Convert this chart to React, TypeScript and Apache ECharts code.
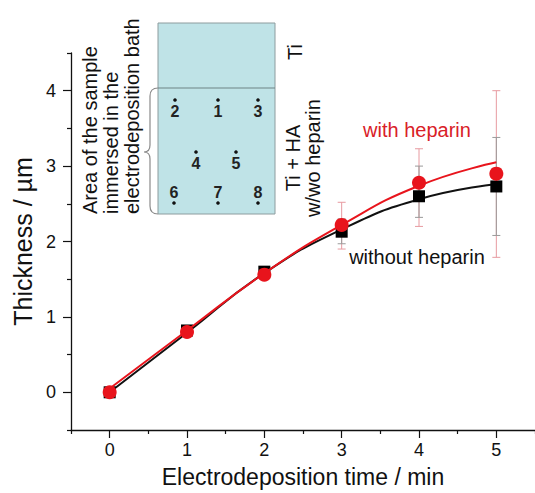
import React, { useEffect, useRef } from "react";
import * as echarts from "echarts";

const times = [0, 1, 2, 3, 4, 5];
const withoutHeparin = [0, 0.82, 1.6, 2.13, 2.6, 2.73];
const withHeparin = [0, 0.8, 1.56, 2.22, 2.78, 2.9];
const fitWithout = [0, 0.79, 1.58, 2.16, 2.56, 2.76];
const fitWith = [0.05, 0.82, 1.58, 2.22, 2.74, 3.05];
const errWithoutLow = [0, 0.8, 1.56, 1.97, 2.32, 2.08];
const errWithoutHigh = [0, 0.84, 1.64, 2.3, 3.0, 3.38];
const errWithLow = [0, 0.78, 1.52, 1.9, 2.2, 1.79];
const errWithHigh = [0, 0.82, 1.6, 2.52, 3.23, 4.0];
const xTicks = [0, 1, 2, 3, 4, 5];
const xMinor = [-0.5, 0.5, 1.5, 2.5, 3.5, 4.5, 5.5];
const yTicks = [0, 1, 2, 3, 4];
const yMinor = [-0.5, 0.5, 1.5, 2.5, 3.5, 4.5];

const FONT = "Liberation Sans, Arial, sans-serif";
const RED = "#e8141c";

const bracePath =
  "M158,88 Q150,88 150,96 L150,145 Q150,152 144,152 Q150,152 150,159 L150,206 Q150,214 158,214";
echarts.graphic.registerShape("brace", echarts.graphic.extendPath(bracePath, {}));

function errSeries(low: number[], high: number[], color: string, z: number) {
  return {
    type: "custom",
    z,
    silent: true,
    data: times.map((t, i) => [t, low[i], high[i]]),
    encode: { x: 0, y: [1, 2] },
    renderItem: (params: any, api: any) => {
      const x = api.value(0);
      const lo = api.value(1);
      const hi = api.value(2);
      const p1 = api.coord([x, hi]);
      const p2 = api.coord([x, lo]);
      const w = 4;
      const st = { stroke: color, lineWidth: 1 };
      return {
        type: "group",
        children: [
          { type: "line", shape: { x1: p1[0], y1: p1[1], x2: p2[0], y2: p2[1] }, style: st },
          { type: "line", shape: { x1: p1[0] - w, y1: p1[1], x2: p1[0] + w, y2: p1[1] }, style: st },
          { type: "line", shape: { x1: p2[0] - w, y1: p2[1], x2: p2[0] + w, y2: p2[1] }, style: st },
        ],
      };
    },
  };
}

export default function App() {
  const ref = useRef<HTMLDivElement>(null);
  useEffect(() => {
    if (!ref.current) return;
    const chart = echarts.init(ref.current, undefined, { renderer: "svg" });
    const axisCommon = {
      type: "value",
      splitLine: { show: false },
    };
    const dots = [
      [175, 100], [218, 100], [258, 100], [196, 152], [236, 152], [174, 203], [218, 203], [258, 203],
    ];
    const nums = [
      ["2", 175, 111], ["1", 218, 111], ["3", 258, 111], ["4", 196, 163], ["5", 236, 163],
      ["6", 174, 192], ["7", 218, 192], ["8", 258, 192],
    ];
    chart.setOption({
      animation: false,
      backgroundColor: "#ffffff",
      grid: { left: 71, right: 0, top: 53, bottom: 62.5, containLabel: false },
      xAxis: [
        {
          ...axisCommon,
          min: -0.5,
          max: 5.5,
          position: "bottom",
          name: "Electrodeposition time / min",
          nameLocation: "middle",
          nameGap: 35,
          nameTextStyle: { fontFamily: FONT, fontSize: 23, color: "#111" },
          axisLine: { show: true, onZero: false, lineStyle: { color: "#111", width: 1.3 } },
          axisTick: { show: true, inside: false, length: 8, customValues: xTicks, lineStyle: { color: "#111", width: 1.2 } },
          axisLabel: { customValues: xTicks, fontFamily: FONT, fontSize: 18, color: "#111", margin: 11 },
        },
        {
          ...axisCommon,
          min: -0.5,
          max: 5.5,
          position: "bottom",
          offset: 0,
          axisLine: { show: false, onZero: false },
          axisTick: { show: true, inside: false, length: 4, customValues: xMinor, lineStyle: { color: "#111", width: 1.2 } },
          axisLabel: { show: false },
        },
      ],
      yAxis: [
        {
          ...axisCommon,
          min: -0.5,
          max: 4.5,
          position: "left",
          name: "Thickness / \u00b5m",
          nameLocation: "middle",
          nameGap: 32,
          nameTextStyle: { fontFamily: FONT, fontSize: 25, color: "#111" },
          axisLine: { show: true, onZero: false, lineStyle: { color: "#111", width: 1.3 } },
          axisTick: { show: true, inside: false, length: 8, customValues: yTicks, lineStyle: { color: "#111", width: 1.2 } },
          axisLabel: { customValues: yTicks, fontFamily: FONT, fontSize: 18, color: "#111", margin: 15 },
        },
        {
          ...axisCommon,
          min: -0.5,
          max: 4.5,
          position: "left",
          offset: 0,
          axisLine: { show: false, onZero: false },
          axisTick: { show: true, inside: false, length: 4, customValues: yMinor, lineStyle: { color: "#111", width: 1.2 } },
          axisLabel: { show: false },
        },
      ],
      series: [
        errSeries(errWithLow, errWithHigh, "#e79aa0", 1),
        errSeries(errWithoutLow, errWithoutHigh, "#9a9a9a", 2),
        {
          type: "line",
          name: "fit without",
          data: times.map((t, i) => [t, fitWithout[i]]),
          smooth: true,
          showSymbol: false,
          lineStyle: { color: "#111", width: 2 },
          z: 3,
        },
        {
          type: "scatter",
          name: "without heparin",
          data: times.map((t, i) => [t, withoutHeparin[i]]),
          symbol: "rect",
          symbolSize: 12,
          itemStyle: { color: "#000", opacity: 1 },
          z: 4,
        },
        {
          type: "line",
          name: "fit with",
          data: times.map((t, i) => [t, fitWith[i]]),
          smooth: true,
          showSymbol: false,
          lineStyle: { color: RED, width: 2 },
          z: 5,
        },
        {
          type: "scatter",
          name: "with heparin",
          data: times.map((t, i) => [t, withHeparin[i]]),
          symbol: "circle",
          symbolSize: 14,
          itemStyle: { color: RED, opacity: 1 },
          z: 6,
        },
      ],
      graphic: [
        {
          type: "rect",
          shape: { x: 158, y: 23, width: 117, height: 191 },
          style: { fill: "#bfe3e7", stroke: "#8d9c9e", lineWidth: 1 },
          z: 10,
        },
        {
          type: "line",
          shape: { x1: 158, y1: 88, x2: 275, y2: 88 },
          style: { stroke: "#6f8386", lineWidth: 1.2 },
          z: 11,
        },
        {
          type: "brace",
          x: 0,
          y: 0,
          shape: {},
          style: { fill: "none", stroke: "#8a8a8a", lineWidth: 1.2 },
          z: 11,
        },
        ...dots.map((d) => ({
          type: "circle",
          shape: { cx: d[0], cy: d[1], r: 1.8 },
          style: { fill: "#111" },
          z: 12,
        })),
        ...nums.map((n) => ({
          type: "text",
          x: n[1] as number,
          y: n[2] as number,
          style: {
            text: n[0] as string,
            fontFamily: FONT,
            fontSize: 16,
            fontWeight: "bold",
            fill: "#222",
            align: "center",
            verticalAlign: "middle",
          },
          z: 12,
        })),
        {
          type: "text",
          x: 111,
          y: 214,
          rotation: Math.PI / 2,
          style: {
            text: "Area of the sample\nimmersed in the\nelectrodeposition bath",
            fontFamily: FONT,
            fontSize: 20,
            lineHeight: 21,
            fill: "#111",
            align: "left",
            verticalAlign: "middle",
          },
          z: 12,
        },
        {
          type: "text",
          x: 295,
          y: 52,
          rotation: Math.PI / 2,
          style: { text: "Ti", fontFamily: FONT, fontSize: 20, fill: "#111", align: "center", verticalAlign: "middle" },
          z: 12,
        },
        {
          type: "text",
          x: 303,
          y: 158,
          rotation: Math.PI / 2,
          style: {
            text: "Ti + HA\nw/wo heparin",
            fontFamily: FONT,
            fontSize: 20,
            lineHeight: 20,
            fill: "#111",
            align: "center",
            verticalAlign: "middle",
          },
          z: 12,
        },
        {
          type: "text",
          x: 417,
          y: 130,
          style: { text: "with heparin", fontFamily: FONT, fontSize: 20, fill: "#d92027", align: "center", verticalAlign: "middle" },
          z: 12,
        },
        {
          type: "text",
          x: 417,
          y: 257,
          style: { text: "without heparin", fontFamily: FONT, fontSize: 20, fill: "#111", align: "center", verticalAlign: "middle" },
          z: 12,
        },
      ],
    });
    return () => chart.dispose();
  }, []);
  return (
    <div
      ref={ref}
      style={{ position: "fixed", left: 0, top: 0, width: 535, height: 493, background: "#fff" }}
    />
  );
}
